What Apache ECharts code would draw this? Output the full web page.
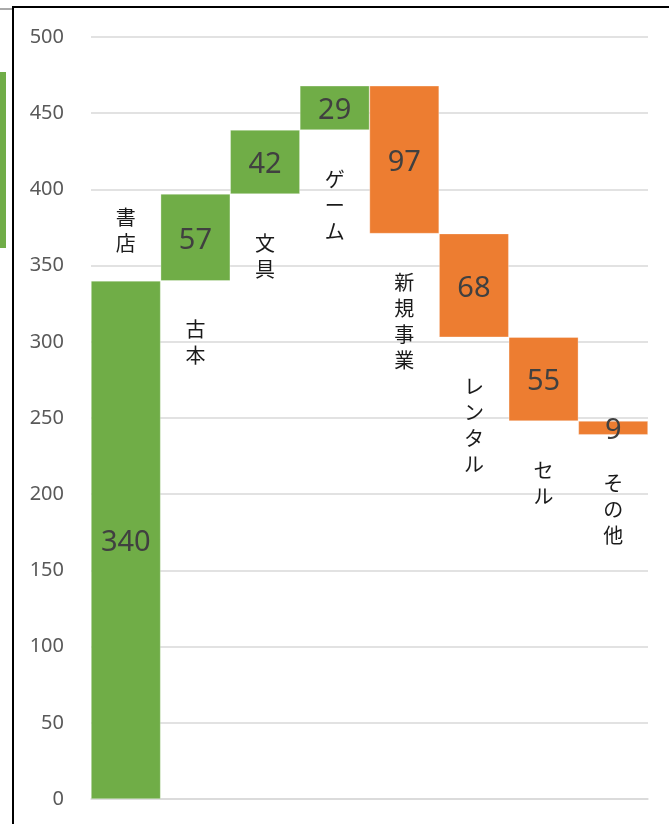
<!DOCTYPE html>
<html>
<head>
<meta charset="utf-8">
<script src="https://cdn.jsdelivr.net/npm/echarts@6/dist/echarts.min.js"></script>
<style>
html,body{margin:0;padding:0;background:#fff;}
#chart{width:669px;height:824px;}
</style>
</head>
<body>
<div id="chart"></div>
<script>
const categories = ['書店', '古本', '文具', 'ゲーム', '新規事業', 'レンタル', 'セル', 'その他'];
const changes = [340, 57, 42, 29, -97, -68, -55, -9];
const yTicks = [0, 50, 100, 150, 200, 250, 300, 350, 400, 450, 500];

const GREEN = '#70AD47', ORANGE = '#ED7D31';

// waterfall helpers derived from the changes
const baseVals = [], shownVals = [];
let running = 0;
changes.forEach(function (c) {
  const next = running + c;
  baseVals.push(Math.min(running, next));
  shownVals.push(Math.abs(c));
  running = next;
});

const vertical = function (s) { return s.split('').join('\n'); };
const catLabelStyle = { fontFamily: 'Noto Sans CJK JP', fontSize: 20, lineHeight: 26, color: '#1a1a1a' };

const chart = echarts.init(document.getElementById('chart'));
chart.setOption({
  animation: false,
  grid: { left: 91, right: 21, top: 37, bottom: 25, containLabel: false },
  xAxis: {
    type: 'category',
    data: categories,
    axisLine: { show: true, lineStyle: { color: '#d9d9d9', width: 1.5 } },
    axisTick: { show: false },
    axisLabel: { show: false }
  },
  yAxis: {
    type: 'value',
    min: yTicks[0],
    max: yTicks[yTicks.length - 1],
    interval: yTicks[1] - yTicks[0],
    axisLine: { show: false },
    axisTick: { show: false },
    axisLabel: { color: '#595959', fontSize: 20, fontFamily: 'Noto Sans', margin: 27 },
    splitLine: { lineStyle: { color: '#d9d9d9', width: 1.5 } }
  },
  series: [
    {
      name: 'base',
      type: 'bar',
      stack: 'w',
      barCategoryGap: '0%',
      silent: true,
      itemStyle: { color: 'transparent' },
      data: baseVals.map(function (v, i) {
        return {
          value: v,
          label: Object.assign({
            show: i !== 0,
            position: 'insideTop',
            distance: 36,
            formatter: vertical(categories[i])
          }, catLabelStyle)
        };
      })
    },
    {
      name: 'value',
      type: 'bar',
      stack: 'w',
      barCategoryGap: '0%',
      data: shownVals.map(function (v, i) {
        return {
          value: v,
          itemStyle: { color: changes[i] >= 0 ? GREEN : ORANGE, borderColor: 'rgba(255,255,255,0.5)', borderWidth: 0.6 }
        };
      }),
      label: {
        show: true,
        position: 'inside',
        offset: [0, 3],
        formatter: function (p) { return String(Math.abs(changes[p.dataIndex])); },
        fontFamily: 'Noto Sans',
        fontSize: 29,
        color: '#404040'
      }
    },
    {
      name: 'top',
      type: 'bar',
      stack: 'w',
      barCategoryGap: '0%',
      silent: true,
      itemStyle: { color: 'transparent' },
      data: categories.map(function (c, i) {
        return {
          value: 0,
          label: Object.assign({
            show: i === 0,
            position: 'top',
            distance: 24,
            formatter: vertical(c)
          }, catLabelStyle)
        };
      })
    }
  ],
  graphic: [
    { type: 'rect', shape: { x: 0, y: 72, width: 6, height: 176 }, style: { fill: GREEN } },
    { type: 'line', shape: { x1: 0, y1: 9, x2: 12, y2: 9 }, style: { stroke: '#555', lineWidth: 1 } },
    { type: 'line', shape: { x1: 12, y1: 7, x2: 669, y2: 7 }, style: { stroke: '#000', lineWidth: 2 } },
    { type: 'line', shape: { x1: 13, y1: 7, x2: 13, y2: 824 }, style: { stroke: '#000', lineWidth: 2 } }
  ]
});
</script>
</body>
</html>
